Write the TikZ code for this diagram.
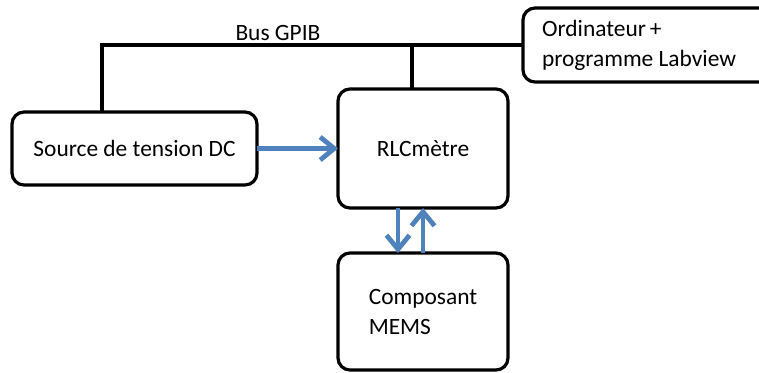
\documentclass[tikz,border=0pt]{standalone}
\usepackage{fontspec}
\setmainfont{Carlito}
\usetikzlibrary{arrows.meta,positioning}
\definecolor{linkblue}{RGB}{79,129,189}

\begin{document}
\begin{tikzpicture}[
  font=\fontsize{11.7}{15}\selectfont,
  box/.style={draw,line width=1.6pt,rounded corners=6pt,outer sep=0pt,align=center},
  bus/.style={line width=1.6pt},
  arrow/.style={-{Straight Barb[length=7pt,width=11.5pt]},line width=2.4pt,linkblue},
]
\useasboundingbox (0,0) rectangle (379.5pt,-186pt);

\node[box,minimum width=122.5pt,minimum height=36.5pt] (src) at (67.25pt,-74.25pt) {Source de tension DC};
\node[box,right=40.5pt of src,minimum width=85pt,minimum height=59.5pt] (rlc) {RLCm\`etre};
\node[box,below=22.5pt of rlc,minimum width=85pt,minimum height=58.5pt,align=flush left] (mems) {Composant\\MEMS};
\node[box,minimum width=128.5pt,minimum height=37pt,text width=109.5pt,align=flush left] (ord) at (325.75pt,-22.5pt) {Ordinateur\,+\\programme Labview};

\draw[bus] ([xshift=-16.25pt]src.north) |- node[pos=0.709,above,inner sep=1.5pt] (gpib) {Bus GPIB} (ord.west);
\draw[bus] ([xshift=-5.5pt]rlc.north) -- ([xshift=-5.5pt]rlc.north |- ord.west);

\draw[arrow] (src) -- (rlc);
\draw[arrow] ([xshift=-12.5pt]rlc.south) -- ([xshift=-12.5pt]mems.north);
\draw[arrow] (mems.north) -- (rlc.south);

\end{tikzpicture}
\end{document}
